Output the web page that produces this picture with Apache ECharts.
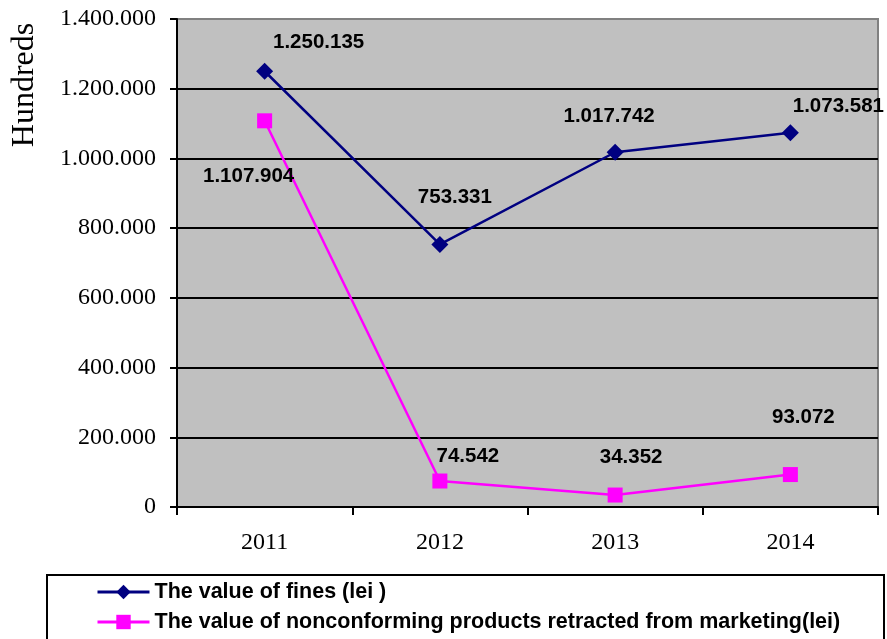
<!DOCTYPE html>
<html>
<head>
<meta charset="utf-8">
<script src="https://cdn.jsdelivr.net/npm/echarts@6/dist/echarts.min.js"></script>
<style>
html,body{margin:0;padding:0;background:#fff;}
#chart{width:887px;height:639px;}
</style>
</head>
<body>
<div id="chart"></div>
<script>
const categories = ['2011', '2012', '2013', '2014'];
const finesName = 'The value of fines (lei )';
const productsName = 'The value of nonconforming products retracted from marketing(lei)';
const fines = [1250135, 753331, 1017742, 1073581];
const products = [1107904, 74542, 34352, 93072];
const yTickMax = 1400000;
const yTickStep = 200000;
const yTitle = 'Hundreds';
const finesLabelOffsets = [[54, -29], [15, -47], [-6, -36], [48, -26]];
const productsLabelOffsets = [[-16, 56], [28, -25], [16, -38], [13, -57]];

function fmt(v) {
  return String(Math.round(v)).replace(/\B(?=(\d{3})+(?!\d))/g, '.');
}

const labelStyle = {
  show: true,
  position: 'inside',
  fontFamily: 'Liberation Sans, Arial, sans-serif',
  fontWeight: 'bold',
  fontSize: 20.5,
  color: '#000',
  formatter: p => fmt(p.value)
};

function withLabels(values, offsets) {
  return values.map((v, i) => ({ value: v, label: Object.assign({}, labelStyle, { offset: offsets[i] }) }));
}

const chart = echarts.init(document.getElementById('chart'), null, { renderer: 'canvas' });
chart.setOption({
  animation: false,
  backgroundColor: '#fff',
  grid: {
    left: 177, right: 9, top: 19, bottom: 132,
    containLabel: false,
    outerBoundsMode: 'none',
    show: true, backgroundColor: '#C0C0C0', borderColor: '#808080', borderWidth: 2
  },
  xAxis: {
    type: 'category',
    data: categories,
    boundaryGap: true,
    axisLine: { lineStyle: { color: '#000', width: 2 } },
    axisTick: { show: true, length: 8, lineStyle: { color: '#000', width: 2 } },
    axisLabel: { fontFamily: 'Liberation Serif, Times New Roman, serif', fontSize: 24, color: '#000', margin: 24 }
  },
  yAxis: {
    type: 'value',
    min: 0, max: yTickMax, interval: yTickStep,
    axisLine: { show: true, lineStyle: { color: '#000', width: 2 } },
    axisTick: { show: true, length: 7, lineStyle: { color: '#000', width: 2 } },
    axisLabel: { fontFamily: 'Liberation Serif, Times New Roman, serif', fontSize: 24, color: '#000', margin: 21, formatter: v => fmt(v) },
    splitLine: { show: true, lineStyle: { color: ['#000','#000','#000','#000','#000','#000','#000','#808080'], width: 2 } }
  },
  legend: {
    orient: 'vertical',
    left: 96, top: 581,
    padding: 0,
    itemWidth: 52, itemHeight: 18, itemGap: 8,
    lineStyle: { width: 3 },
    textStyle: { fontFamily: 'Liberation Sans, Arial, sans-serif', fontWeight: 'bold', fontSize: 21.5, color: '#000', lineHeight: 22 },
    data: [finesName, productsName]
  },
  graphic: [
    {
      type: 'rect', left: 46, top: 574, z: -1,
      shape: { width: 837, height: 90 },
      style: { fill: '#fff', stroke: '#000', lineWidth: 2 }
    },
    {
      type: 'text', x: 25, y: 85, rotation: Math.PI / 2,
      style: {
        text: yTitle, fill: '#000',
        font: '32px "Liberation Serif", "Times New Roman", serif',
        textAlign: 'center', textVerticalAlign: 'middle'
      }
    }
  ],
  series: [
    {
      name: finesName, type: 'line',
      data: withLabels(fines, finesLabelOffsets),
      symbol: 'diamond', symbolSize: 17,
      lineStyle: { color: '#000080', width: 2.5 },
      itemStyle: { color: '#000080' },
      z: 3
    },
    {
      name: productsName, type: 'line',
      data: withLabels(products, productsLabelOffsets),
      symbol: 'rect', symbolSize: 15,
      lineStyle: { color: '#FF00FF', width: 2.5 },
      itemStyle: { color: '#FF00FF' },
      z: 3
    }
  ]
});
</script>
</body>
</html>
